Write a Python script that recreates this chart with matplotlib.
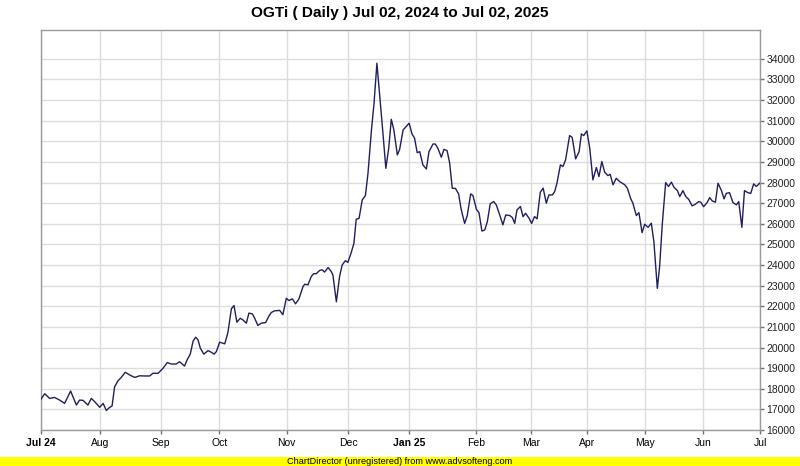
import matplotlib
matplotlib.use('Agg')
import matplotlib.pyplot as plt
from matplotlib.patches import Rectangle

plt.rcParams['font.family'] = ['Liberation Sans', 'DejaVu Sans']

# trading-day index (0 = Jul 02 2024, 250 = Jul 02 2025) and closing values
days = [0, 1.3, 3.0, 4.7, 6.5, 8.2, 10.3, 12.3, 13.4, 14.6, 16.3, 17.5, 18.7, 20.4,
        21.6, 22.7, 23.9, 24.7, 25.6, 26.8, 27.9, 29.3, 30.8, 32.6, 34.3, 36.0, 37.8,
        38.9, 40.7, 42.4, 43.9, 45.3, 47.0, 48.2, 49.9, 50.8,
        51.9, 52.9, 53.8, 54.6, 55.4, 56.6, 58.1, 59.2, 60.2, 61.0, 62.1, 63.9, 65.0,
        66.2, 67.1, 68.1, 69.3, 70.2, 71.4, 72.3, 73.5, 74.3, 75.4, 76.6, 78.1, 79.3,
        80.1, 81.2, 83.0, 84.1, 85.3, 86.2, 87.4, 88.5, 89.7, 91.1, 91.7, 92.8, 94.0,
        94.8, 95.7, 96.9, 97.8, 98.6, 99.8, 100.9,
        101.5, 102.7, 103.8, 104.7, 105.8, 106.7, 107.7, 108.8, 109.6, 110.6, 111.7,
        112.8, 113.7, 114.9, 115.8, 116.8, 117.7, 118.9, 119.9, 120.9, 121.8, 122.7,
        123.9, 124.7, 125.9, 127.0, 128.0, 129.0, 129.9, 130.8, 131.7, 132.8, 134.0,
        134.9, 136.3, 137.1, 138.0, 139.2, 140.1, 141.2, 142.1, 143.0, 144.1, 145.2,
        146.1, 147.3, 148.2, 149.4, 150.2,
        151.4, 152.3, 153.3, 154.3, 155.2, 156.2, 157.4, 158.3, 159.5, 160.6, 161.6,
        163.0, 163.9, 164.7, 165.5, 166.7, 167.6, 168.5, 169.7, 170.6, 171.6, 172.5,
        173.6, 174.6, 175.7, 176.6, 177.8, 178.6, 179.4, 180.6, 181.5, 182.4, 183.8,
        184.7, 185.9, 187.1, 187.9, 188.7, 189.8, 190.8, 191.9, 193.1, 194.0, 195.0,
        196.0, 197.1, 197.9, 198.9, 200.0, 201.2,
        203.0, 203.9, 205.0, 205.8, 207.0, 207.9, 209.0, 209.9, 211.1, 212.2, 213.1,
        214.3, 215.1, 216.0, 217.2, 218.2, 219.2, 220.1, 221.3, 222.1, 223.2, 224.2,
        225.2, 226.4, 227.5, 228.7, 229.4, 230.4, 231.6, 232.5, 233.4, 234.5, 235.4,
        236.6, 237.5, 238.3, 239.4, 240.6, 241.8, 242.6, 243.7, 244.6, 245.8, 246.8,
        247.8, 248.7, 249.9]

prices = [17500, 17760, 17530, 17580, 17450, 17290, 17890, 17210, 17450, 17440, 17210,
          17530, 17370, 17100, 17290, 16950, 17100, 17160, 18100, 18390, 18550, 18800,
          18670, 18550, 18630, 18620, 18620, 18750, 18750, 18990, 19270, 19200, 19200,
          19310, 19100, 19400,
          19680, 20320, 20500, 20370, 19970, 19680, 19850, 19770, 19680, 19810, 20260,
          20180, 20740, 21880, 22040, 21230, 21420, 21340, 21180, 21670, 21630, 21420,
          21070, 21180, 21210, 21540, 21700, 21780, 21800, 21590, 22390, 22280, 22360,
          22120, 22360, 22960, 23070, 23040, 23450, 23580, 23580, 23740, 23770, 23660,
          23880, 23690,
          23510, 22220, 23430, 24000, 24210, 24130, 24530, 25050, 26220, 26270, 27160,
          27370, 28450, 30550, 31850, 33790, 32330, 30390, 28690, 29660, 31070, 30550,
          29340, 29610, 30550, 30720, 30880, 30360, 30150, 29450, 29500, 28850, 28660,
          29500, 29870, 29870, 29660, 29230, 29610, 29550, 28940, 27720, 27720, 27450,
          26700, 26020, 26390, 27450, 27370,
          26700, 26540, 25650, 25700, 26110, 26970, 27080, 26920, 26430, 25950, 26430,
          26400, 26300, 26020, 26670, 26840, 26350, 26510, 26270, 26020, 26350, 26240,
          27530, 27730, 27000, 27400, 27400, 27560, 27970, 28860, 28780, 29100, 30280,
          30190, 29150, 29500, 30360, 30280, 30510, 29670, 28130, 28730, 28290, 29020,
          28500, 28340, 28400, 27890, 28210, 28050,
          27890, 27720, 27240, 27000, 26400, 26540, 25570, 25980, 25830, 26030, 25140,
          22870, 23920, 25940, 28000, 27810, 28020, 27770, 27610, 27320, 27610, 27320,
          27190, 26870, 26950, 27080, 27050, 26830, 27030, 27270, 27110, 27050, 27970,
          27610, 27210, 27480, 27510, 27030, 26920, 27080, 25830, 27610, 27510, 27480,
          27940, 27810, 27970]

month_pos = [0, 20.6, 41.8, 62.0, 85.4, 106.8, 127.9, 151.4, 170.5, 190.0, 210.1, 230.3, 250]
month_labels = ['Jul 24', 'Aug', 'Sep', 'Oct', 'Nov', 'Dec', 'Jan 25', 'Feb', 'Mar',
                'Apr', 'May', 'Jun', 'Jul']
y_ticks = list(range(16000, 34001, 1000))

title = 'OGTi ( Daily ) Jul 02, 2024 to Jul 02, 2025'
footer = 'ChartDirector (unregistered) from www.advsofteng.com'

W, H = 800, 466
fig = plt.figure(figsize=(W / 100, H / 100), dpi=100)
ax = fig.add_axes([41 / W, 36 / H, 719 / W, 400 / H])

ax.plot(days, prices, color='#1f1f5f', lw=1.0, zorder=3)
ax.set_xlim(0, 250)
ax.set_ylim(16000, 35400)

ax.yaxis.tick_right()
ax.set_yticks(y_ticks)
ax.set_yticklabels([str(v) for v in y_ticks])
ax.set_xticks(month_pos)
ax.set_xticklabels(month_labels)
for lbl in ax.get_xticklabels():
    if ' ' in lbl.get_text():
        lbl.set_fontweight('bold')

ax.grid(True, color='#dcdcdc', lw=1.0, zorder=0)
ax.tick_params(axis='y', length=3, width=1, color='#707070', labelsize=7.5, pad=1.5,
               labelcolor='#222222')
ax.tick_params(axis='x', length=3, width=1, color='#707070', labelsize=7.5, pad=3,
               labelcolor='#000000')
for s in ax.spines.values():
    s.set_color('#9a9a9a')
    s.set_linewidth(1.0)

fig.text(0.5, 1 - 12.5 / H, title, ha='center', va='center', fontsize=11.1,
         fontweight='bold')

fig.patches.append(Rectangle((0, 0), 1, 9.5 / H, transform=fig.transFigure,
                             facecolor='#ffff00', edgecolor='none'))
fig.text(0.5, 4.8 / H, footer, ha='center', va='center', fontsize=6.6, color='#000000')

fig.savefig('out.png', dpi=100)
